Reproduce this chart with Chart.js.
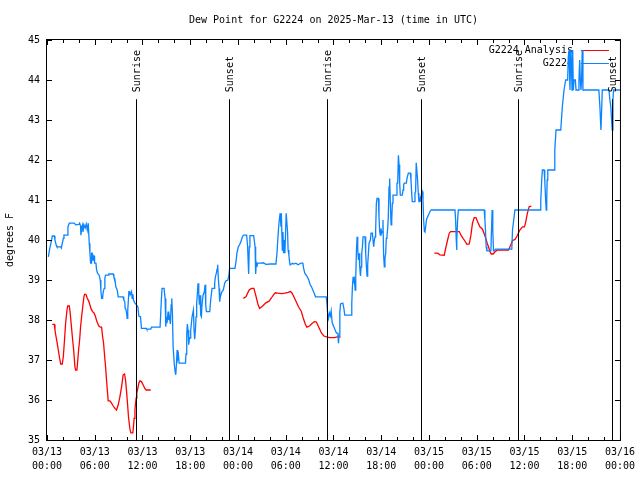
<!DOCTYPE html>
<html>
<head>
<meta charset="utf-8">
<title>Dew Point for G2224</title>
<script src="https://cdn.jsdelivr.net/npm/chart.js@4.4.1/dist/chart.umd.min.js"></script>
<style>
  html, body { margin: 0; padding: 0; background: #fff; }
  canvas { display: block; }
</style>
</head>
<body>
<canvas id="dewChart" width="640" height="480"></canvas>
<script>
// hours since 2025-03-13 00:00 UTC
const titleText = 'Dew Point for G2224 on 2025-Mar-13 (time in UTC)';
const yTitle = 'degrees F';

const tickDates = ['03/13', '03/13', '03/13', '03/13', '03/14', '03/14', '03/14', '03/14', '03/15', '03/15', '03/15', '03/15', '03/16'];
const tickTimes = ['00:00', '06:00', '12:00', '18:00', '00:00', '06:00', '12:00', '18:00', '00:00', '06:00', '12:00', '18:00', '00:00'];

const sunHours  = [11.2, 22.88, 35.16, 46.95, 59.25, 71.04];
const sunLabels = ['Sunrise', 'Sunset', 'Sunrise', 'Sunset', 'Sunrise', 'Sunset'];

// station obs (G2224)
const blueHours = [
  0.17, 0.33, 0.6, 0.67, 0.92, 1.0, 1.17, 1.25, 1.72, 1.8,
  2.05, 2.13, 2.55, 2.63, 2.8, 3.43, 3.6, 4.0, 4.1, 4.22,
  4.26, 4.38, 4.47, 4.52, 4.64, 4.8, 4.93, 5.06, 5.18, 5.27,
  5.31, 5.39, 5.48, 5.56, 5.6, 5.68, 5.73, 5.8, 5.85, 5.92,
  5.98, 6.15, 6.23, 6.35, 6.56, 6.69, 6.77, 6.86, 6.98, 7.07,
  7.19, 7.27, 7.36, 7.69, 7.77, 8.32, 8.4, 8.53, 8.65, 8.82,
  8.95, 9.57, 9.65, 9.78, 9.82, 9.91, 10.0, 10.07, 10.15, 10.29,
  10.37, 10.45, 10.53, 10.62, 10.7, 10.78, 10.87, 11.04, 11.25, 11.42,
  11.54, 11.75, 11.87, 12.5, 12.54, 13.04, 13.13, 14.21, 14.38, 14.46,
  14.71, 14.84, 14.93, 15.0, 15.08, 15.22, 15.3, 15.38, 15.51, 15.6,
  15.68, 15.76, 15.85, 15.93, 16.0, 16.1, 16.18, 16.26, 16.35, 16.43,
  16.52, 16.6, 17.4, 17.47, 17.56, 17.64, 17.72, 17.81, 17.9, 17.98,
  18.06, 18.23, 18.32, 18.4, 18.48, 18.56, 18.65, 18.73, 18.81, 18.9,
  18.98, 19.07, 19.15, 19.23, 19.32, 19.4, 19.48, 19.61, 19.78, 19.86,
  19.95, 20.03, 20.45, 20.57, 20.74, 20.99, 21.07, 21.16, 21.28, 21.37,
  21.45, 21.53, 21.62, 21.7, 21.78, 21.91, 22.0, 22.16, 22.33, 22.5,
  22.74, 22.86, 22.95, 23.62, 23.75, 23.87, 24.04, 24.2, 24.37, 24.55,
  24.71, 25.09, 25.21, 25.34, 25.42, 25.5, 25.97, 26.15, 26.22, 26.3,
  26.38, 26.46, 26.88, 27.2, 27.5, 28.06, 28.77, 28.9, 29.0, 29.1,
  29.19, 29.3, 29.4, 29.45, 29.57, 29.65, 29.73, 29.8, 29.9, 29.98,
  30.06, 30.15, 30.23, 30.3, 30.4, 30.48, 30.56, 30.86, 31.0, 31.28,
  31.55, 31.9, 32.15, 32.25, 32.4, 32.65, 32.9, 33.08, 33.24, 33.4,
  33.58, 33.74, 35.0, 35.08, 35.16, 35.25, 35.37, 35.5, 35.6, 35.71,
  35.84, 36.04, 36.25, 36.38, 36.55, 36.63, 36.7, 36.8, 36.88, 37.17,
  37.3, 37.42, 38.22, 38.3, 38.38, 38.47, 38.55, 38.63, 38.72, 38.8,
  38.89, 38.97, 39.05, 39.14, 39.22, 39.3, 39.39, 39.47, 39.55, 39.64,
  39.72, 39.97, 40.05, 40.14, 40.22, 40.3, 40.39, 40.47, 40.64, 40.72,
  40.89, 40.97, 41.05, 41.14, 41.22, 41.3, 41.39, 41.47, 41.64, 41.72,
  41.81, 41.89, 41.97, 42.05, 42.14, 42.22, 42.3, 42.39, 42.47, 42.56,
  42.64, 42.72, 42.81, 42.89, 42.98, 43.06, 43.15, 43.24, 43.32, 43.4,
  43.48, 43.9, 43.98, 44.07, 44.16, 44.24, 44.32, 44.4, 44.65, 44.74,
  44.82, 44.9, 45.16, 45.24, 45.41, 45.66, 45.74, 45.82, 45.9, 46.16,
  46.24, 46.32, 46.4, 46.49, 46.57, 46.66, 46.74, 46.82, 46.91, 46.99,
  47.07, 47.17, 47.25, 47.33, 47.42, 47.5, 47.58, 47.7, 47.92, 48.17,
  48.3, 51.27, 51.35, 51.43, 51.47, 51.52, 51.6, 51.69, 54.94, 55.03,
  55.1, 55.19, 55.28, 55.78, 55.86, 55.94, 56.02, 56.11, 56.2, 56.36,
  58.41, 58.5, 58.62, 58.8, 61.97, 62.05, 62.17, 62.25, 62.47, 62.55,
  62.66, 62.74, 62.8, 62.85, 62.93, 63.72, 63.81, 63.89, 63.97, 64.56,
  64.76, 64.97, 65.18, 65.43, 65.51, 65.6, 65.72, 65.8, 65.85, 65.98,
  66.06, 66.14, 66.23, 66.4, 66.48, 66.77, 66.85, 66.94, 67.02, 67.1,
  67.18, 67.26, 67.35, 69.35, 69.48, 69.61, 69.7, 69.78, 70.62, 70.74,
  70.85, 70.95, 71.03, 71.12, 71.2, 72.0
];
const blueValues = [
  39.58, 39.77, 40.02, 40.1, 40.1, 40.0, 39.86, 39.83, 39.83, 39.8,
  40.04, 40.12, 40.12, 40.33, 40.42, 40.42, 40.38, 40.39, 40.42, 40.35,
  40.12, 40.33, 40.38, 40.2, 40.38, 40.3, 40.4, 40.25, 40.42, 40.42,
  39.92, 39.68, 39.42, 39.42, 39.67, 39.67, 39.5, 39.5, 39.6, 39.6,
  39.42, 39.42, 39.25, 39.17, 39.12, 39.0, 38.75, 38.54, 38.54, 38.71,
  38.79, 39.04, 39.12, 39.12, 39.15, 39.15, 39.08, 39.02, 38.83, 38.75,
  38.58, 38.58, 38.5, 38.46, 38.29, 38.27, 38.17, 38.04, 38.25, 38.71,
  38.71, 38.63, 38.63, 38.71, 38.54, 38.65, 38.5, 38.42, 38.38, 38.33,
  38.1, 38.08, 37.79, 37.79, 37.77, 37.77, 37.82, 37.82, 38.54, 38.79,
  38.79, 38.54, 37.83, 38.08, 37.92, 38.21, 38.0, 38.08, 37.9, 38.38,
  38.54, 38.17, 37.33, 37.33, 36.88, 36.71, 36.63, 36.88, 37.25, 37.04,
  37.12, 36.92, 36.92, 37.15, 37.65, 37.9, 37.75, 37.38, 37.55, 37.55,
  37.75, 38.08, 38.08, 38.25, 37.75, 37.52, 37.75, 38.08, 38.42, 38.67,
  38.92, 38.67, 38.38, 38.62, 38.12, 38.08, 38.38, 38.62, 38.71, 38.88,
  38.38, 38.21, 38.21, 38.5, 38.79, 38.79, 38.92, 39.08, 39.17, 39.27,
  39.38, 39.04, 38.79, 38.46, 38.58, 38.67, 38.71, 38.75, 38.92, 38.98,
  39.0, 39.12, 39.29, 39.29, 39.46, 39.67, 39.83, 39.88, 39.96, 40.08,
  40.12, 40.12, 39.83, 39.15, 39.83, 40.11, 40.11, 39.83, 39.15, 39.42,
  39.33, 39.42, 39.42, 39.43, 39.39, 39.4, 39.4, 39.67, 40.0, 40.3,
  40.5, 40.67, 40.33, 40.67, 39.75, 40.2, 39.67, 40.0, 39.67, 40.2,
  40.67, 40.67, 40.2, 39.75, 39.62, 39.46, 39.38, 39.42, 39.4, 39.42,
  39.38, 39.42, 39.42, 39.29, 39.17, 39.1, 39.0, 38.88, 38.83, 38.75,
  38.67, 38.58, 38.58, 38.58, 38.46, 38.21, 38.04, 38.17, 38.1, 38.23,
  37.93, 37.83, 37.73, 37.67, 37.67, 37.42, 37.62, 38.17, 38.4, 38.42,
  38.3, 38.12, 38.12, 38.42, 38.83, 39.08, 38.92, 39.0, 38.75, 39.08,
  39.75, 40.08, 39.75, 39.5, 39.67, 39.33, 39.1, 39.33, 39.67, 39.83,
  40.08, 40.08, 39.67, 39.33, 39.1, 39.38, 39.67, 39.92, 40.0, 40.17,
  40.17, 40.0, 39.83, 40.0, 40.08, 40.25, 40.92, 41.04, 41.04, 40.58,
  40.2, 40.12, 40.29, 40.17, 40.21, 40.5, 39.62, 39.33, 39.54, 39.67,
  40.04, 40.08, 40.29, 40.58, 41.33, 41.54, 40.92, 40.38, 40.5, 40.92,
  41.12, 41.12, 41.42, 41.42, 42.12, 41.88, 41.42, 41.12, 41.12, 41.25,
  41.38, 41.42, 41.42, 41.54, 41.67, 41.67, 41.5, 41.21, 40.96, 40.96,
  41.17, 41.21, 41.93, 41.93, 41.5, 41.17, 40.96, 40.96, 41.04, 40.96,
  41.17, 41.21, 41.0, 40.5, 40.22, 40.2, 40.33, 40.52, 40.62, 40.73,
  40.75, 40.75, 40.5, 40.0, 39.75, 40.0, 40.5, 40.75, 40.75, 40.5,
  40.25, 39.83, 39.73, 39.73, 40.25, 40.75, 40.25, 39.73, 39.73, 39.77,
  39.77, 40.25, 40.45, 40.75, 40.75, 41.0, 41.5, 41.75, 41.75, 41.5,
  41.0, 40.75, 41.0, 41.5, 41.75, 41.75, 42.25, 42.5, 42.75, 42.75,
  43.33, 43.75, 44.0, 44.0, 44.58, 44.75, 43.75, 44.5, 44.75, 43.75,
  44.75, 43.75, 44.0, 44.0, 43.75, 43.75, 44.0, 44.5, 44.0, 43.75,
  44.0, 44.75, 43.75, 43.75, 43.33, 42.75, 43.25, 43.75, 43.75, 43.5,
  43.33, 43.0, 42.75, 43.5, 43.75, 43.75
];

// analysis (G2224 Analysis), null = no data
const redHours = [
  0.67, 0.92, 1.0, 1.12, 1.25, 1.42, 1.59, 1.72, 1.92, 2.05,
  2.2, 2.34, 2.51, 2.6, 2.8, 2.9, 3.05, 3.2, 3.35, 3.51,
  3.6, 3.76, 3.85, 3.97, 4.1, 4.22, 4.35, 4.52, 4.64, 4.72,
  4.89, 5.05, 5.27, 5.52, 5.73, 5.93, 6.1, 6.27, 6.52, 6.69,
  6.86, 6.98, 7.11, 7.24, 7.36, 7.48, 7.6, 7.69, 7.9, 8.11,
  8.32, 8.53, 8.74, 8.95, 9.16, 9.37, 9.57, 9.74, 9.87, 10.0,
  10.12, 10.24, 10.41, 10.54, 10.79, 10.87, 10.95, 11.05, 11.13, 11.21,
  11.29, 11.42, 11.54, 11.67, 11.87, 12.08, 12.29, 12.46, 13.04, 18,
  24.67, 25.0, 25.4, 25.7, 26.0, 26.22, 26.5, 26.72, 27.1, 27.5,
  27.9, 28.2, 28.5, 28.7, 29.0, 29.5, 29.9, 30.3, 30.6, 30.8,
  31.1, 31.4, 31.6, 31.95, 32.2, 32.45, 32.65, 33.0, 33.3, 33.6,
  33.85, 34.2, 34.5, 34.8, 35.2, 35.6, 36.1, 36.5, 36.9, 42,
  48.67, 49.09, 49.38, 49.92, 50.14, 50.34, 50.55, 50.72, 51.81, 52.02,
  52.43, 52.77, 53.06, 53.27, 53.47, 53.69, 53.9, 54.1, 54.4, 54.73,
  55.07, 55.32, 55.48, 55.66, 55.82, 56.07, 56.32, 56.61, 57.99, 58.29,
  58.49, 58.83, 59.12, 59.42, 59.75, 60.0, 60.17, 60.37, 60.59, 60.88
];
const redValues = [
  37.89, 37.89, 37.75, 37.6, 37.46, 37.25, 37.04, 36.9, 36.9, 37.08,
  37.5, 37.92, 38.25, 38.35, 38.35, 38.2, 37.88, 37.55, 37.25, 36.83,
  36.75, 36.75, 36.95, 37.25, 37.5, 37.83, 38.08, 38.38, 38.58, 38.64,
  38.64, 38.55, 38.46, 38.29, 38.21, 38.17, 38.08, 37.96, 37.85, 37.82,
  37.82, 37.6, 37.42, 37.1, 36.83, 36.5, 36.2, 35.98, 35.98, 35.92,
  35.85, 35.79, 35.75, 35.88, 36.08, 36.33, 36.63, 36.65, 36.5, 36.21,
  35.9, 35.58, 35.29, 35.18, 35.18, 35.35, 35.54, 35.75, 35.92, 36.05,
  36.17, 36.3, 36.42, 36.48, 36.46, 36.38, 36.29, 36.25, 36.25, null,
  38.54, 38.58, 38.75, 38.79, 38.79, 38.63, 38.4, 38.29, 38.35, 38.43,
  38.47, 38.55, 38.64, 38.68, 38.67, 38.66, 38.67, 38.69, 38.71, 38.67,
  38.55, 38.42, 38.33, 38.22, 38.05, 37.9, 37.82, 37.85, 37.91, 37.96,
  37.95, 37.8, 37.67, 37.6, 37.57, 37.56, 37.56, 37.58, 37.58, null,
  39.67, 39.67, 39.63, 39.62, 39.83, 40.0, 40.17, 40.21, 40.21, 40.12,
  40.0, 39.89, 39.9, 40.12, 40.42, 40.56, 40.56, 40.46, 40.33, 40.27,
  40.08, 39.92, 39.83, 39.71, 39.65, 39.65, 39.71, 39.75, 39.75, 39.88,
  39.98, 40.02, 40.12, 40.25, 40.33, 40.33, 40.46, 40.67, 40.83, 40.85
];

const BLUE = '#0a84ff';
const RED = '#ff0000';
const FONT = '10px "DejaVu Sans Mono", "Liberation Mono", monospace';

// frame, inward ticks, sun lines, title, legend -- gnuplot look
const decor = {
  id: 'decor',
  beforeDatasetsDraw(chart) {
    const { ctx, chartArea: ca } = chart;
    ctx.save();
    ctx.font = FONT;
    ctx.fillStyle = '#000';
    ctx.textBaseline = 'middle';
    ctx.textAlign = 'right';
    const keys = [['G2224 Analysis', RED], ['G2224', BLUE]];
    keys.forEach(([txt, col], i) => {
      const y = ca.top + 10 + i * 13;
      ctx.fillStyle = '#000';
      ctx.fillText(txt, ca.right - 47, y);
      ctx.strokeStyle = col;
      ctx.lineWidth = 1;
      ctx.beginPath();
      ctx.moveTo(ca.right - 39, y + 0.5);
      ctx.lineTo(ca.right - 11, y + 0.5);
      ctx.stroke();
    });
    ctx.restore();
  },
  afterDatasetsDraw(chart) {
    const { ctx, chartArea: ca, scales: { x, y } } = chart;
    ctx.save();
    ctx.strokeStyle = '#000';
    ctx.lineWidth = 1;

    // sunrise / sunset markers
    const top = y.getPixelForValue(43.52);
    sunHours.forEach((h, i) => {
      const px = Math.round(x.getPixelForValue(h)) + 0.5;
      ctx.beginPath();
      ctx.moveTo(px, top);
      ctx.lineTo(px, ca.bottom);
      ctx.stroke();
      ctx.save();
      ctx.translate(px + 1, top - 7);
      ctx.rotate(-Math.PI / 2);
      ctx.font = FONT;
      ctx.fillStyle = '#000';
      ctx.textAlign = 'left';
      ctx.textBaseline = 'middle';
      ctx.fillText(sunLabels[i], 0, 0);
      ctx.restore();
    });

    // border
    ctx.strokeRect(ca.left - 0.5, ca.top - 0.5, ca.right - ca.left + 1, ca.bottom - ca.top + 1);

    // inward ticks
    ctx.beginPath();
    for (let h = 0; h <= 72; h += 2) {
      const px = Math.round(x.getPixelForValue(h)) + 0.5;
      const len = h % 6 === 0 ? 5 : 3;
      ctx.moveTo(px, ca.bottom);
      ctx.lineTo(px, ca.bottom - len);
      ctx.moveTo(px, ca.top);
      ctx.lineTo(px, ca.top + len);
    }
    for (let v = 35; v <= 45; v++) {
      const py = Math.round(y.getPixelForValue(v)) + 0.5;
      ctx.moveTo(ca.left, py);
      ctx.lineTo(ca.left + 5, py);
      ctx.moveTo(ca.right, py);
      ctx.lineTo(ca.right - 5, py);
    }
    ctx.stroke();

    // title and y label
    ctx.font = FONT;
    ctx.fillStyle = '#000';
    ctx.textAlign = 'center';
    ctx.textBaseline = 'middle';
    ctx.fillText(titleText, (ca.left + ca.right) / 2, 20);
    ctx.save();
    ctx.translate(10, (ca.top + ca.bottom) / 2);
    ctx.rotate(-Math.PI / 2);
    ctx.fillText(yTitle, 0, 0);
    ctx.restore();
    ctx.restore();
  }
};

const tickFont = { family: '"DejaVu Sans Mono", "Liberation Mono", monospace', size: 10, lineHeight: 1.4 };

const chart = new Chart(document.getElementById('dewChart').getContext('2d'), {
  type: 'line',
  data: {
    datasets: [
      {
        label: 'G2224',
        data: blueHours.map((h, i) => ({ x: h, y: blueValues[i] })),
        borderColor: BLUE,
        borderWidth: 1.3,
        pointRadius: 0,
        tension: 0
      },
      {
        label: 'G2224 Analysis',
        data: redHours.map((h, i) => ({ x: h, y: redValues[i] })),
        borderColor: RED,
        borderWidth: 1.3,
        pointRadius: 0,
        tension: 0,
        spanGaps: false
      }
    ]
  },
  options: {
    responsive: false,
    animation: false,
    devicePixelRatio: 1,
    layout: { padding: { top: 40, right: 19, left: 0, bottom: 0 } },
    plugins: {
      legend: { display: false },
      tooltip: { enabled: false },
      title: { display: false }
    },
    scales: {
      x: {
        type: 'linear',
        min: 0,
        max: 72,
        grid: { display: false, drawTicks: false },
        border: { display: false },
        ticks: {
          stepSize: 6,
          autoSkip: false,
          maxRotation: 0,
          color: '#000',
          padding: 5,
          font: tickFont,
          callback: v => [tickDates[v / 6], tickTimes[v / 6]]
        },
        afterFit: s => { s.height = 40; }
      },
      y: {
        min: 35,
        max: 45,
        grid: { display: false, drawTicks: false },
        border: { display: false },
        ticks: { stepSize: 1, color: '#000', padding: 7, font: tickFont },
        afterFit: s => { s.width = 47; }
      }
    }
  },
  plugins: [decor]
});
</script>
</body>
</html>
